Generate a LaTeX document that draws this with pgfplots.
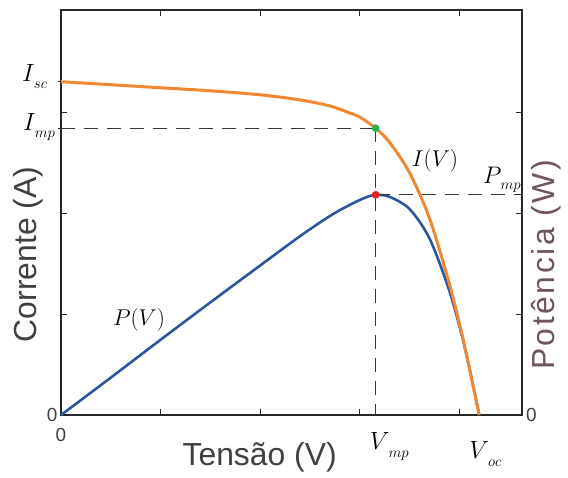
\documentclass[border=0pt]{standalone}
\usepackage{fix-cm}
\usepackage[no-math]{fontspec}
\usepackage{pgfplots}
\pgfplotsset{compat=1.18}
\newfontfamily\lsans{Liberation Sans}
\newfontfamily\lsanswide[LetterSpace=8]{Liberation Sans}
\definecolor{curI}{RGB}{240,135,50}
\definecolor{curP}{RGB}{45,85,155}
\definecolor{txtgray}{RGB}{64,64,64}
\definecolor{potcol}{RGB}{110,85,90}
\definecolor{dashgray}{RGB}{55,55,55}
\definecolor{ptgreen}{RGB}{40,175,80}
\definecolor{ptred}{RGB}{235,30,30}
% symbol with a small, low-set subscript
\newcommand\lsub[3][6bp]{$#2$\hspace{-1bp}\raisebox{-#1}{\fontsize{15}{15}\selectfont$#3$}}

\begin{document}
\begin{tikzpicture}
\useasboundingbox (0,0) rectangle (568bp,478bp);
\begin{axis}[
    at={(61bp,63bp)}, anchor=south west,
    scale only axis, width=461bp, height=405bp,
    xmin=0, xmax=4.63, ymin=0, ymax=4.01,
    clip=false,
    axis line style={line width=1.1bp, black!85},
    tick align=inside, major tick length=6bp,
    tick style={black!85, line width=0.8bp},
    xtick={0,1,2,3,4}, xticklabels={0,,,,},
    ytick={0,1,2,3}, yticklabels={0,,,},
    extra y ticks={3.30,2.84}, extra y tick labels={},
    extra y tick style={tick align=center, ytick pos=left},
    ticklabel style={font=\lsans\fontsize{19}{19}\selectfont, text=txtgray},
    xticklabel style={yshift=-10bp},
  ]
  % P(V)
  \addplot[curP, line width=2.6bp, no markers, smooth] coordinates {
    (0,0) (0.5,0.37) (1.0,0.745) (1.5,1.115) (2.0,1.48) (2.4,1.77)
    (2.7,1.97) (2.9,2.08) (3.05,2.15) (3.16,2.18) (3.3,2.16)
    (3.5,2.04) (3.7,1.75) (3.9,1.23) (4.05,0.69) (4.2,0)};
  % I(V)
  \addplot[curI, line width=3bp, no markers, smooth] coordinates {
    (0,3.30) (0.5,3.27) (1.0,3.24) (1.5,3.21) (2.0,3.17) (2.4,3.12)
    (2.7,3.06) (2.9,2.99) (3.0,2.95) (3.16,2.84) (3.3,2.70)
    (3.5,2.40) (3.7,1.95) (3.9,1.30) (4.05,0.70) (4.2,0)};
  % guide lines
  \addplot[dashgray, line width=0.9bp, dash pattern=on 14bp off 9bp] coordinates {(0,2.84) (3.16,2.84)};
  \addplot[dashgray, line width=0.9bp, dash pattern=on 14bp off 9bp] coordinates {(3.16,2.84) (3.16,0)};
  \addplot[dashgray, line width=0.9bp, dash pattern=on 14bp off 9bp] coordinates {(3.16,2.18) (4.63,2.18)};
  % points
  \addplot[only marks, mark=*, mark size=3.6bp, ptgreen] coordinates {(3.16,2.84)};
  \addplot[only marks, mark=*, mark size=3.6bp, ptred] coordinates {(3.16,2.18)};

  % labels
  \node[anchor=base west, inner sep=0, font=\fontsize{25}{25}\selectfont] at (axis cs:-0.392,3.30) {\lsub[7bp]{I}{sc}};
  \node[anchor=base west, inner sep=0, font=\fontsize{25}{25}\selectfont] at (axis cs:-0.382,2.82) {\lsub[7bp]{I}{mp}};
  \node[anchor=base west, inner sep=0, font=\fontsize{25}{25}\selectfont] at (axis cs:3.10,-0.34) {\lsub[8bp]{V}{mp}};
  \node[anchor=base west, inner sep=0, font=\fontsize{25}{25}\selectfont] at (axis cs:4.1,-0.43) {\lsub[8bp]{V}{oc}};
  \node[anchor=base west, inner sep=0, font=\fontsize{24}{24}\selectfont] at (axis cs:4.238,2.297) {\lsub[6bp]{P}{mp}};
  \node[font=\fontsize{23}{23}\selectfont] at (axis cs:3.756,2.515) {$I(V)$};
  \node[font=\fontsize{23}{23}\selectfont] at (axis cs:0.783,0.941) {$P(V)$};
  \node[anchor=west, inner sep=0, text=txtgray, font=\lsans\fontsize{19}{19}\selectfont] at (axis cs:4.63,0) [xshift=4bp] {0};

  \node[rotate=90, text=txtgray, font=\lsans\fontsize{32}{32}\selectfont] at (axis cs:-0.327,1.589) {Corrente (A)};
  \node[rotate=90, text=potcol, font=\lsanswide\fontsize{32}{32}\selectfont] at (axis cs:4.874,1.485) {Potência (W)};
  \node[text=txtgray, font=\lsans\fontsize{32}{32}\selectfont] at (axis cs:1.995,-0.416) {Tensão (V)};
\end{axis}
% right-hand tick at P_mp
\begin{axis}[
    at={(61bp,63bp)}, anchor=south west,
    scale only axis, width=461bp, height=405bp,
    xmin=0, xmax=4.63, ymin=0, ymax=4.01,
    axis x line=none, axis y line*=right,
    axis line style={draw=none},
    tick align=inside, major tick length=6bp,
    tick style={black!85, line width=0.8bp},
    ytick={2.18}, yticklabels={},
  ]
  \addplot[draw=none] coordinates {(0,0)};
\end{axis}
\end{tikzpicture}
\end{document}
